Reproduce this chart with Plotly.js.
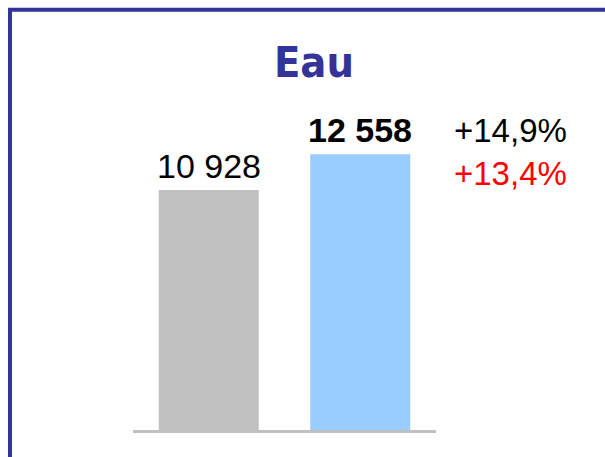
<!DOCTYPE html>
<html>
<head>
<meta charset="utf-8">
<script src="https://cdn.plot.ly/plotly-3.0.1.min.js"></script>
<style>html,body{margin:0;padding:0;background:#fff;}#chart{width:605px;height:457px;}</style>
</head>
<body>
<div id="chart"></div>
<script>
const categories = ["2006", "2007"];
const values = [10928, 12558];
const valueLabels = ["10 928", "<b>12 558</b>"];
const barColors = ["#c0c0c0", "#99ccff"];
const growthLabels = ["+14,9%", "+13,4%"];
const growthColors = ["#000000", "#ff0000"];
const chartTitle = "Eau";

const trace = {
  type: "bar",
  x: categories,
  y: values,
  cliponaxis: false,
  marker: {color: barColors, line: {width: 0}},
  hoverinfo: "none"
};

const growthText = growthLabels.map((t, i) => `<span style="color:${growthColors[i]}">${t}</span>`).join("<br>");

// category axis: annotation x given as category index
const valueAnnotations = categories.map((c, i) => ({
  text: valueLabels[i],
  x: i, y: values[i], xref: "x", yref: "y",
  xanchor: "center", yanchor: "bottom",
  yshift: 3,
  showarrow: false,
  font: {family: "Liberation Sans, Arial, sans-serif", size: 34, color: "#000"}
}));

const layout = {
  width: 605,
  height: 457,
  margin: {l: 133, r: 169, t: 123, b: 27},
  paper_bgcolor: "#ffffff",
  plot_bgcolor: "#ffffff",
  showlegend: false,
  bargap: 0.34,
  title: {
    text: "<b>" + chartTitle + "</b>",
    font: {family: "DejaVu Sans Condensed, DejaVu Sans, sans-serif", size: 43, color: "#333399"},
    x: 0.519, xref: "container", xanchor: "center",
    y: 0.865, yref: "container", yanchor: "middle"
  },
  xaxis: {
    type: "category",
    range: [-0.5, 1.5],
    showticklabels: false,
    ticks: "",
    showgrid: false,
    zeroline: false,
    showline: true,
    linecolor: "#c0c0c0",
    linewidth: 3
  },
  yaxis: {
    range: [0, 13980],
    showticklabels: false,
    ticks: "",
    showgrid: false,
    zeroline: false,
    showline: false
  },
  annotations: valueAnnotations.concat([{
    text: growthText,
    xref: "paper", yref: "paper",
    x: 1.054, y: 0.904,
    xanchor: "left", yanchor: "middle",
    align: "left",
    showarrow: false,
    font: {family: "Liberation Sans, Arial, sans-serif", size: 33, color: "#000"}
  }]),
  shapes: [{
    type: "rect",
    xref: "paper", yref: "paper",
    x0: -0.406, x1: 1.7,
    y0: -0.3, y1: 1.369,
    line: {color: "#333399", width: 4},
    fillcolor: "rgba(0,0,0,0)",
    layer: "above"
  }]
};

Plotly.newPlot("chart", [trace], layout, {staticPlot: true, displayModeBar: false});
</script>
</body>
</html>
